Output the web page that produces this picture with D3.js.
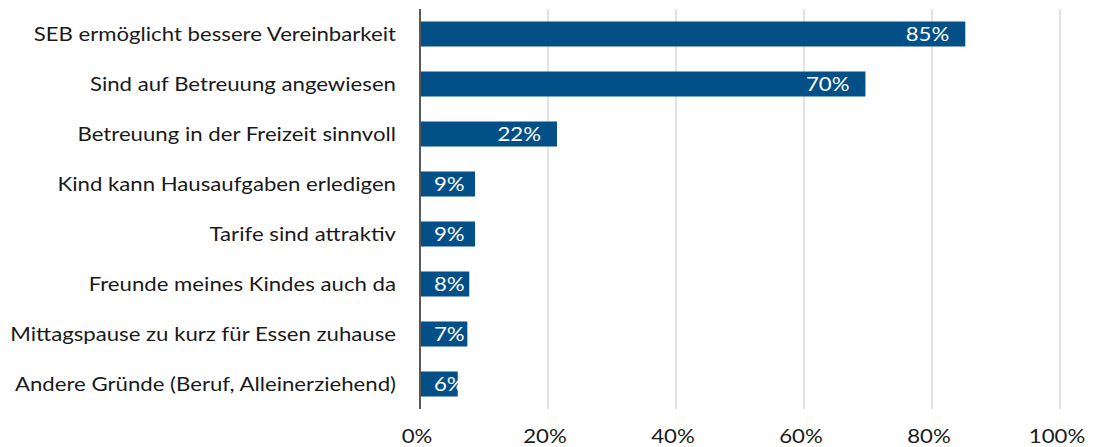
<!DOCTYPE html>
<html><head><meta charset="utf-8">
<script src="https://cdn.jsdelivr.net/npm/d3@7"></script>
<style>html,body{margin:0;padding:0;background:#fff;}svg{display:block;}</style>
</head><body>
<svg id="chart" width="1095" height="447"></svg>
<script>
const categories = [
  "SEB ermöglicht bessere Vereinbarkeit",
  "Sind auf Betreuung angewiesen",
  "Betreuung in der Freizeit sinnvoll",
  "Kind kann Hausaufgaben erledigen",
  "Tarife sind attraktiv",
  "Freunde meines Kindes auch da",
  "Mittagspause zu kurz für Essen zuhause",
  "Andere Gründe (Beruf, Alleinerziehend)"
];
const values = [85.2, 69.6, 21.4, 8.6, 8.6, 7.7, 7.4, 5.9];
const valueLabels = ["85%", "70%", "22%", "9%", "9%", "8%", "7%", "6%"];
const tickValues = [0, 20, 40, 60, 80, 100];
const tickLabels = ["0%", "20%", "40%", "60%", "80%", "100%"];

const svg = d3.select("#chart");
const FONT = "Lato, 'Open Sans', sans-serif";
const FS = 20;
const CAP = 7.2;
const x = d3.scaleLinear().domain([0, 100]).range([420, 1060]);
const y = d3.scaleBand().domain(categories).range([9, 409]).paddingInner(0.5).paddingOuter(0.25);

// horizontal compression factor to mimic the narrow original font
const probe = svg.append("text").attr("font-family", FONT).attr("font-size", FS).text(categories[6]);
const sx = 386 / probe.node().getComputedTextLength();
probe.remove();

// gridlines
svg.append("g").selectAll("line").data(tickValues.slice(1)).join("line")
  .attr("x1", d => x(d)).attr("x2", d => x(d))
  .attr("y1", 9).attr("y2", 409)
  .attr("stroke", "#d9d9d9").attr("stroke-width", 1.5);

// bars
svg.append("g").selectAll("rect").data(values).join("rect")
  .attr("x", x(0)).attr("y", (d, i) => y(categories[i]))
  .attr("width", d => x(d) - x(0)).attr("height", y.bandwidth())
  .attr("fill", "#034f88");

// axis line
svg.append("line").attr("x1", x(0)).attr("x2", x(0)).attr("y1", 9).attr("y2", 409)
  .attr("stroke", "#595959").attr("stroke-width", 2);

// category labels
svg.append("g").selectAll("text").data(categories).join("text")
  .attr("transform", d => `translate(396,${y(d) + y.bandwidth() / 2 + CAP}) scale(${sx},1)`)
  .attr("text-anchor", "end").attr("font-family", FONT).attr("font-size", FS)
  .attr("fill", "#1a1a1a").text(d => d);

// value labels
const vl = svg.append("g").selectAll("text").data(values).join("text")
  .attr("font-family", FONT).attr("font-size", FS).attr("fill", "#ffffff")
  .text((d, i) => valueLabels[i]);
vl.each(function (d, i) {
  const w = this.getComputedTextLength() * sx;
  let start = x(d) - 16 - w;
  start = Math.max(start, x(0) + 14);
  d3.select(this).attr("transform",
    `translate(${start},${y(categories[i]) + y.bandwidth() / 2 + CAP}) scale(${sx},1)`);
});

// tick labels
svg.append("g").selectAll("text").data(tickValues).join("text")
  .attr("transform", (d) => `translate(${x(d) - 3},443) scale(${sx},1)`)
  .attr("text-anchor", "middle").attr("font-family", FONT).attr("font-size", FS)
  .attr("fill", "#1a1a1a").text((d, i) => tickLabels[i]);
</script>
</body></html>
